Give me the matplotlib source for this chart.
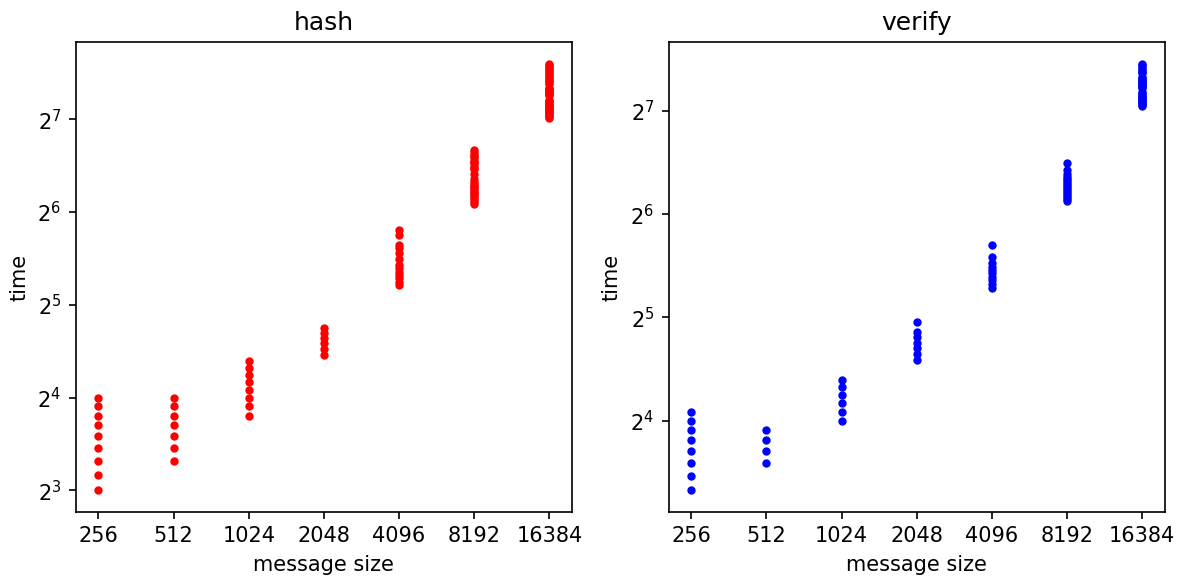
import matplotlib
matplotlib.use("Agg")
import matplotlib.pyplot as plt

# message sizes (x positions)
sizes = [256, 512, 1024, 2048, 4096, 8192, 16384]

# hash timings, one list per message size
hash_256 = [8, 9, 10, 11, 12, 13, 14, 15, 16]
hash_512 = [10, 11, 12, 13, 14, 15, 16]
hash_1024 = [14, 15, 16, 17, 18, 19, 20, 21]
hash_2048 = [22, 23, 24, 25, 26, 27]
hash_4096 = [37, 38, 39, 40, 41, 42, 43, 45, 47, 49, 50, 54, 56]
hash_8192 = [68, 69, 70, 71, 72, 73, 74, 75, 76, 77, 78, 79, 80, 82, 85,
             88, 89, 90, 92, 93, 94, 96, 97, 98, 100, 102]
hash_16384 = [129, 130, 131, 132, 133, 134, 135, 136, 137, 138, 139, 140,
              141, 142, 143, 144, 145, 146, 147, 148, 153, 154, 155, 156,
              157, 158, 159, 160, 161, 162, 167, 168, 170, 172, 174, 176,
              178, 180, 182, 184, 186, 188, 190, 192, 194]

# verify timings
verify_256 = [10, 11, 12, 13, 14, 15, 16, 17]
verify_512 = [12, 13, 14, 15]
verify_1024 = [16, 17, 18, 19, 20, 21]
verify_2048 = [24, 25, 26, 27, 28, 29, 31]
verify_4096 = [39, 40, 41, 42, 43, 44, 45, 46, 48, 52]
verify_8192 = [70, 71, 72, 73, 74, 75, 76, 77, 78, 79, 80, 81, 82, 84, 86, 90]
verify_16384 = [132, 133, 134, 135, 136, 137, 138, 139, 140, 141, 142, 143,
                144, 145, 149, 150, 151, 152, 153, 154, 155, 156, 157, 158,
                159, 160, 161, 165, 166, 168, 170, 172, 174, 176]

hash_times = [hash_256, hash_512, hash_1024, hash_2048, hash_4096, hash_8192, hash_16384]
verify_times = [verify_256, verify_512, verify_1024, verify_2048, verify_4096,
                verify_8192, verify_16384]

fig, axes = plt.subplots(1, 2, figsize=(7.9, 3.86), dpi=150)

for ax, times, color, title in [(axes[0], hash_times, 'r', 'hash'),
                                (axes[1], verify_times, 'b', 'verify')]:
    for size, vals in zip(sizes, times):
        ax.plot([size] * len(vals), vals, '.', color=color)
    ax.set_xscale('log', base=2)
    ax.set_yscale('log', base=2)
    ax.set_xticks(sizes)
    ax.set_xticklabels([str(s) for s in sizes])
    ax.minorticks_off()
    ax.set_title(title)
    ax.set_xlabel('message size')
    ax.set_ylabel('time')

fig.subplots_adjust(left=0.064, right=0.983, bottom=0.116, top=0.927, wspace=0.195)
fig.savefig('out.png')
